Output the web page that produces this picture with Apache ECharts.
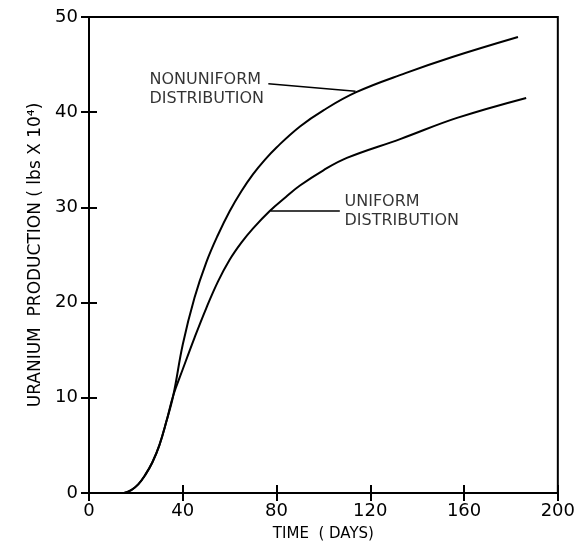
<!DOCTYPE html>
<html>
<head>
<meta charset="utf-8">
<script src="https://cdn.jsdelivr.net/npm/echarts@6/dist/echarts.min.js"></script>
<style>
  html, body { margin: 0; padding: 0; background: #fff; }
  #chart { width: 578px; height: 558px; }
</style>
</head>
<body>
<div id="chart"></div>
<script>
var nonuniformDays = [15, 18, 21, 24, 27, 30, 33, 36, 40, 45, 50, 55, 60, 65, 70, 75, 80, 90, 100, 114, 135, 155, 183];
var nonuniformLbs  = [0, 0.3, 0.9, 1.9, 3.2, 5.0, 7.5, 10.3, 15.6, 20.5, 24.2, 27.1, 29.6, 31.7, 33.5, 35.0, 36.3, 38.5, 40.2, 42.1, 44.1, 45.8, 47.9];

var uniformDays = [15, 18, 21, 24, 27, 30, 33, 36, 40, 45, 50, 55, 60, 65, 70, 77, 84, 90, 100, 110, 133, 157, 186.5];
var uniformLbs  = [0, 0.3, 0.9, 1.9, 3.2, 5.0, 7.5, 10.3, 13.0, 16.3, 19.4, 22.2, 24.5, 26.3, 27.8, 29.6, 31.1, 32.3, 33.9, 35.2, 37.2, 39.4, 41.5];

// callout text and leader lines, in data units
var nonuniformLabel = ['NONUNIFORM', 'DISTRIBUTION'];
var nonuniformLabelAt = [25.8, 42.4];
var nonuniformLeader = [[76.5, 43.0], [113.7, 42.2]];
var uniformLabel = ['UNIFORM', 'DISTRIBUTION'];
var uniformLabelAt = [109, 29.6];
var uniformLeader = [[77.4, 29.7], [107, 29.7]];

function pairs(xs, ys) {
  var out = [];
  for (var i = 0; i < xs.length; i++) out.push([xs[i], ys[i]]);
  return out;
}

var font = 'DejaVu Sans';
var chart = echarts.init(document.getElementById('chart'));

var tickStyle = { inside: true, length: 8, lineStyle: { color: '#000', width: 2 } };

option = {
  animation: false,
  backgroundColor: '#fff',
  grid: { left: 89, right: 16, top: 17, bottom: 65, show: true, borderColor: '#000', borderWidth: 2 },
  xAxis: [
    {
      type: 'value', min: 0, max: 200, interval: 40,
      name: 'TIME  ( DAYS)', nameLocation: 'middle', nameGap: 34,
      nameTextStyle: { color: '#000', fontFamily: font, fontSize: 15 },
      axisLine: { lineStyle: { color: '#000', width: 2 } },
      axisTick: tickStyle,
      axisLabel: { color: '#000', fontFamily: font, fontSize: 18, margin: 9 },
      splitLine: { show: false }
    },
    {
      type: 'value', position: 'top', min: 0, max: 200, interval: 40,
      axisLine: { lineStyle: { color: '#000', width: 2 } },
      axisTick: tickStyle,
      axisLabel: { show: false },
      splitLine: { show: false }
    }
  ],
  yAxis: [
    {
      type: 'value', min: 0, max: 50, interval: 10,
      name: 'URANIUM  PRODUCTION ( lbs X 10\u2074)', nameLocation: 'middle', nameGap: 44,
      nameTextStyle: { color: '#000', fontFamily: font, fontSize: 17 },
      axisLine: { lineStyle: { color: '#000', width: 2 } },
      axisTick: tickStyle,
      axisLabel: { color: '#000', fontFamily: font, fontSize: 18, margin: 11 },
      splitLine: { show: false }
    },
    {
      type: 'value', position: 'right', min: 0, max: 50, interval: 10,
      axisLine: { lineStyle: { color: '#000', width: 2 } },
      axisTick: tickStyle,
      axisLabel: { show: false },
      splitLine: { show: false }
    }
  ],
  series: [
    {
      name: 'nonuniform', type: 'line', smooth: 0.4, showSymbol: false,
      lineStyle: { color: '#000', width: 2 },
      data: pairs(nonuniformDays, nonuniformLbs),
      markLine: {
        silent: true, symbol: 'none', label: { show: false },
        lineStyle: { color: '#000', width: 1.5, type: 'solid' },
        data: [[{ coord: nonuniformLeader[0] }, { coord: nonuniformLeader[1] }]]
      }
    },
    {
      name: 'uniform', type: 'line', smooth: 0.4, showSymbol: false,
      lineStyle: { color: '#000', width: 2 },
      data: pairs(uniformDays, uniformLbs),
      markLine: {
        silent: true, symbol: 'none', label: { show: false },
        lineStyle: { color: '#000', width: 1.5, type: 'solid' },
        data: [[{ coord: uniformLeader[0] }, { coord: uniformLeader[1] }]]
      }
    },
    {
      type: 'scatter', symbolSize: 0, silent: true,
      data: [nonuniformLabelAt, uniformLabelAt],
      label: {
        show: true, position: [0, 0], align: 'left', verticalAlign: 'middle',
        color: '#000', fontFamily: font, fontSize: 16, lineHeight: 19,
        formatter: function (p) {
          return (p.dataIndex === 0 ? nonuniformLabel : uniformLabel).join('\n');
        }
      }
    }
  ]
};
chart.setOption(option);
</script>
</body>
</html>
